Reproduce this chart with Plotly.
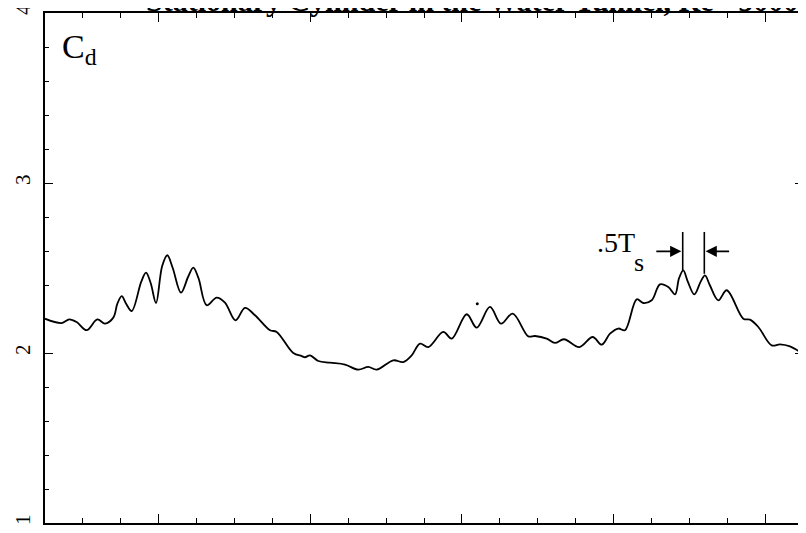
import plotly.graph_objects as go

x_vals = [0.0, 0.441, 0.641, 0.836, 1.100, 1.380, 1.583, 1.802, 1.91, 2.024, 2.14, 2.288,
          2.54, 2.665, 2.79, 2.929, 3.09, 3.227, 3.37, 3.588, 3.78, 3.913, 4.05, 4.266, 4.530,
          4.749, 5.026, 5.277, 5.541, 5.937, 6.113, 6.551, 6.773, 6.860, 6.992, 7.211,
          7.520, 7.916, 8.266, 8.530, 8.752, 9.190, 9.454, 9.675, 9.894, 10.113, 10.509,
          10.731, 11.127, 11.390, 11.741, 12.032, 12.340, 12.752, 12.929, 13.237, 13.456,
          13.694, 14.098, 14.451, 14.689, 14.908, 15.127, 15.303, 15.612, 15.786, 16.008,
          16.227, 16.446, 16.623, 16.73, 16.842, 16.96, 17.132, 17.30, 17.414, 17.54, 17.765,
          17.987, 18.425, 18.602, 18.821, 19.174, 19.393, 19.657, 19.876, 20.0]
cd_vals = [2.202, 2.176, 2.198, 2.182, 2.134, 2.198, 2.173, 2.208, 2.29, 2.334, 2.29, 2.247,
           2.42, 2.473, 2.41, 2.294, 2.51, 2.575, 2.50, 2.355, 2.45, 2.502, 2.44, 2.281, 2.326,
           2.296, 2.192, 2.265, 2.222, 2.134, 2.124, 2.000, 1.982, 1.975, 1.986, 1.953,
           1.943, 1.932, 1.902, 1.918, 1.902, 1.957, 1.947, 1.986, 2.055, 2.035, 2.124,
           2.085, 2.228, 2.149, 2.271, 2.173, 2.232, 2.098, 2.100, 2.085, 2.059,
           2.081, 2.035, 2.094, 2.049, 2.114, 2.144, 2.134, 2.316, 2.294, 2.310,
           2.404, 2.388, 2.345, 2.44, 2.486, 2.42, 2.345, 2.42, 2.457, 2.40, 2.310,
           2.369, 2.202, 2.196, 2.153, 2.045, 2.051, 2.039, 2.012, 1.996]

stray_x = [11.406]
stray_y = [2.290]

y_tick_vals = [1, 2, 3, 4]
y_tick_text = ["1", "2", "3", "4"]
x_major_ticks = [3, 7, 11, 15, 19]

title_text = "Stationary Cylinder in the Water Tunnel, Re= 5000"
serif = "Liberation Serif, Times New Roman, serif"

fig = go.Figure()
fig.add_trace(go.Scatter(x=x_vals, y=cd_vals, mode="lines",
                         line=dict(color="black", width=1.8, shape="spline", smoothing=1.0),
                         showlegend=False, hoverinfo="skip"))
fig.add_trace(go.Scatter(x=stray_x, y=stray_y, mode="markers",
                         marker=dict(color="black", size=3),
                         showlegend=False, hoverinfo="skip"))

# Half-period marker lines
for xv, ytop, ybot in [(16.826, 2.712, 2.486), (17.396, 2.712, 2.466)]:
    fig.add_shape(type="line", x0=xv, x1=xv, y0=ybot, y1=ytop, xref="x", yref="y",
                  line=dict(color="black", width=1.6))

# Arrows
fig.add_annotation(x=16.79, y=2.598, ax=16.09, ay=2.598, xref="x", yref="y",
                   axref="x", ayref="y", showarrow=True, arrowhead=2, arrowsize=1.4,
                   arrowwidth=1.6, arrowcolor="black", text="")
fig.add_annotation(x=17.43, y=2.598, ax=18.09, ay=2.598, xref="x", yref="y",
                   axref="x", ayref="y", showarrow=True, arrowhead=2, arrowsize=1.4,
                   arrowwidth=1.6, arrowcolor="black", text="")

fig.add_annotation(x=15.62, y=2.652, xref="x", yref="y", text=".5T", showarrow=False,
                   xanchor="right", yanchor="middle",
                   font=dict(family=serif, size=28, color="black"))
fig.add_annotation(x=15.66, y=2.535, xref="x", yref="y", text="s", showarrow=False,
                   xanchor="center", yanchor="middle",
                   font=dict(family=serif, size=26, color="black"))

# Cd label
fig.add_annotation(x=0.02, y=0.93, xref="paper", yref="paper", text="C<sub>d</sub>",
                   showarrow=False, xanchor="left", yanchor="middle",
                   font=dict(family=serif, size=34, color="black"))

# clipped title at the very top
fig.add_annotation(x=0.996, y=1.0, xref="paper", yref="paper", yshift=-6,
                   text="<b>" + title_text + "</b>", showarrow=False,
                   xanchor="right", yanchor="bottom",
                   font=dict(family=serif, size=30, color="black"))

# page body has an 8px margin, so the figure is sized to fill the rest
fig.update_layout(
    width=798, height=525,
    margin=dict(l=37, r=3, t=5, b=10),
    paper_bgcolor="white", plot_bgcolor="white",
    xaxis=dict(range=[0, 20], showgrid=False, zeroline=False, automargin=False,
               showline=True, linecolor="black", linewidth=1.5, mirror="ticks",
               ticks="inside", tickvals=x_major_ticks, ticklen=9, tickwidth=1.3,
               tickcolor="black", showticklabels=False,
               minor=dict(dtick=1, tick0=0, ticks="inside", ticklen=5,
                          tickwidth=1.2, tickcolor="black")),
    yaxis=dict(range=[1, 4], showgrid=False, zeroline=False, automargin=False,
               showline=True, linecolor="black", linewidth=1.5, mirror="ticks",
               ticks="inside", tickvals=y_tick_vals, ticktext=y_tick_text,
               ticklen=8, tickwidth=1.3, tickcolor="black", tickangle=-90,
               ticklabelstandoff=5, ticklabeloverflow="allow",
               tickfont=dict(family=serif, size=21, color="black"),
               minor=dict(dtick=0.2, tick0=1, ticks="inside", ticklen=4,
                          tickwidth=1.2, tickcolor="black")),
)

fig.write_html("out.html")
